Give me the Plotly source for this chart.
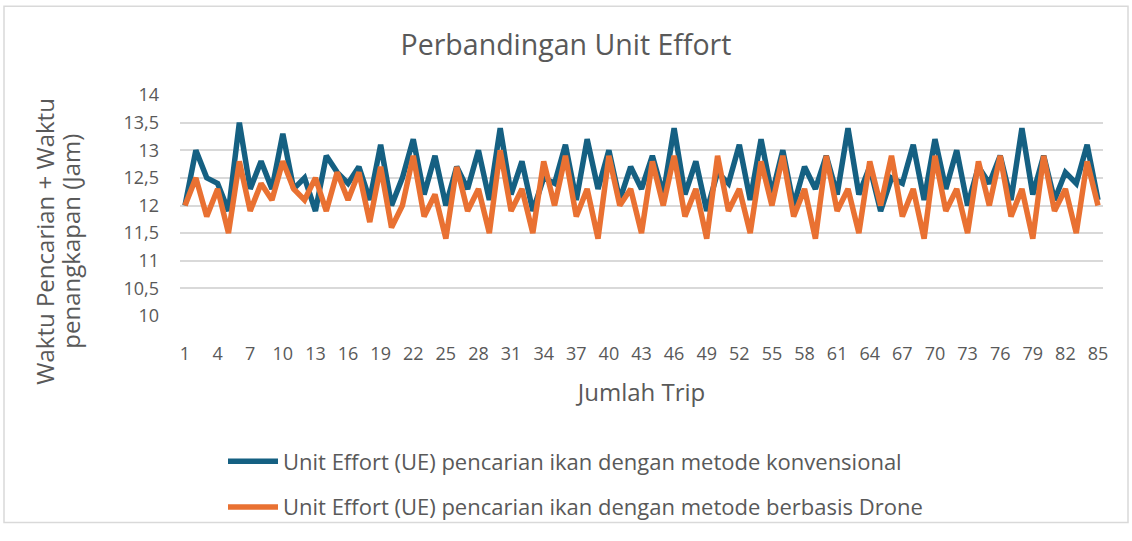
import plotly.graph_objects as go

trips = list(range(1, 86))

ue_konvensional = [
    12.0, 13.0, 12.5, 12.4, 11.9, 13.5, 12.3, 12.8, 12.3, 13.3,
    12.3, 12.5, 11.9, 12.9, 12.6, 12.4, 12.7, 12.1, 13.1, 12.0,
    12.5, 13.2, 12.2, 12.9, 12.0, 12.7, 12.3, 13.0, 12.1, 13.4,
    12.2, 12.8, 11.9, 12.5, 12.4, 13.1, 12.1, 13.2, 12.3, 13.0,
    12.1, 12.7, 12.3, 12.9, 12.2, 13.4, 12.2, 12.8, 11.9, 12.6,
    12.4, 13.1, 12.1, 13.2, 12.2, 13.0, 12.0, 12.7, 12.3, 12.9,
    12.2, 13.4, 12.2, 12.7, 11.9, 12.5, 12.4, 13.1, 12.1, 13.2,
    12.3, 13.0, 12.0, 12.7, 12.4, 12.9, 12.1, 13.4, 12.2, 12.9,
    12.1, 12.6, 12.4, 13.1, 12.1,
]

ue_drone = [
    12.0, 12.5, 11.8, 12.3, 11.5, 12.8, 11.9, 12.4, 12.1, 12.8,
    12.3, 12.1, 12.5, 11.9, 12.6, 12.1, 12.6, 11.7, 12.7, 11.6,
    12.0, 12.9, 11.8, 12.2, 11.4, 12.7, 11.9, 12.3, 11.5, 13.0,
    11.9, 12.3, 11.5, 12.8, 12.0, 12.9, 11.8, 12.3, 11.4, 12.9,
    12.0, 12.3, 11.5, 12.8, 12.0, 12.9, 11.8, 12.3, 11.4, 12.9,
    11.9, 12.3, 11.5, 12.8, 12.0, 12.9, 11.8, 12.3, 11.4, 12.9,
    11.9, 12.3, 11.5, 12.8, 12.0, 12.9, 11.8, 12.3, 11.4, 12.9,
    11.9, 12.3, 11.5, 12.8, 12.0, 12.9, 11.8, 12.3, 11.4, 12.9,
    11.9, 12.3, 11.5, 12.8, 12.0,
]

x_tickvals = list(range(1, 86, 3))
y_tickvals = [10, 10.5, 11, 11.5, 12, 12.5, 13, 13.5, 14]

title_text = "Perbandingan Unit Effort"
x_title = "Jumlah Trip"
y_title_lines = ["Waktu Pencarian + Waktu", "penangkapan (Jam)"]
name_konv = "Unit Effort (UE) pencarian ikan dengan metode konvensional"
name_drone = "Unit Effort (UE) pencarian ikan dengan metode berbasis Drone"

FONT = "Open Sans"
TXT = "#595959"

fig = go.Figure()
fig.add_trace(go.Scatter(
    x=trips, y=ue_konvensional, mode="lines", name=name_konv,
    line=dict(color="#156082", width=5.5), legendgroup="a",
))
fig.add_trace(go.Scatter(
    x=trips, y=ue_drone, mode="lines", name=name_drone,
    line=dict(color="#E97132", width=5.5), legendgroup="b",
))

W, H = 1132, 541
ml, mr, mt, mb = 180, 29, 95, 217
pw = W - ml - mr
ph = H - mt - mb

def px_x(p):
    return (p - ml) / pw

def px_y(p):
    return (H - mb - p) / ph

annotations = []
for line_text, cx in zip(y_title_lines, [45, 71]):
    annotations.append(dict(
        text=line_text, xref="paper", yref="paper",
        x=px_x(cx), y=px_y(247), xanchor="center", yanchor="middle",
        textangle=-90, showarrow=False,
        font=dict(family=FONT, size=24, color=TXT),
    ))

fig.update_layout(
    width=W, height=H,
    margin=dict(l=ml, r=mr, t=mt, b=mb),
    paper_bgcolor="white", plot_bgcolor="white",
    separators=",.",
    font=dict(family=FONT, color=TXT, size=18),
    title=dict(text=title_text, x=0.5, xanchor="center",
               y=1 - 45 / H, yanchor="middle",
               font=dict(family=FONT, size=28.5, color=TXT)),
    xaxis=dict(
        range=[0.54, 85.46], tickmode="array", tickvals=x_tickvals,
        showgrid=False, zeroline=False, showline=False, ticks="",
        tickfont=dict(size=18, color=TXT), ticklabelstandoff=25,
        title=dict(text=x_title, font=dict(size=24, color=TXT), standoff=20),
    ),
    yaxis=dict(
        range=[10, 14], tickmode="array", tickvals=y_tickvals,
        showgrid=True, gridcolor="#D9D9D9", gridwidth=1.5,
        zeroline=False, showline=False, ticks="",
        tickfont=dict(size=18, color=TXT), ticklabelstandoff=20,
    ),
    legend=dict(
        orientation="v", x=px_x(223), xanchor="left",
        y=px_y(453), yanchor="top",
        font=dict(size=22, color=TXT),
        traceorder="grouped", tracegroupgap=14,
        bgcolor="rgba(0,0,0,0)", itemwidth=50,
    ),
    showlegend=True,
    annotations=annotations,
    shapes=[dict(
        type="rect", xref="paper", yref="paper",
        x0=px_x(4), x1=px_x(1128), y0=px_y(538), y1=px_y(3),
        line=dict(color="#D9D9D9", width=1.5), fillcolor="rgba(0,0,0,0)",
        layer="below",
    )],
)

fig.write_html(
    "out.html",
    config={"displayModeBar": False},
    post_script="document.body.style.margin='0';document.body.style.padding='0';",
)
